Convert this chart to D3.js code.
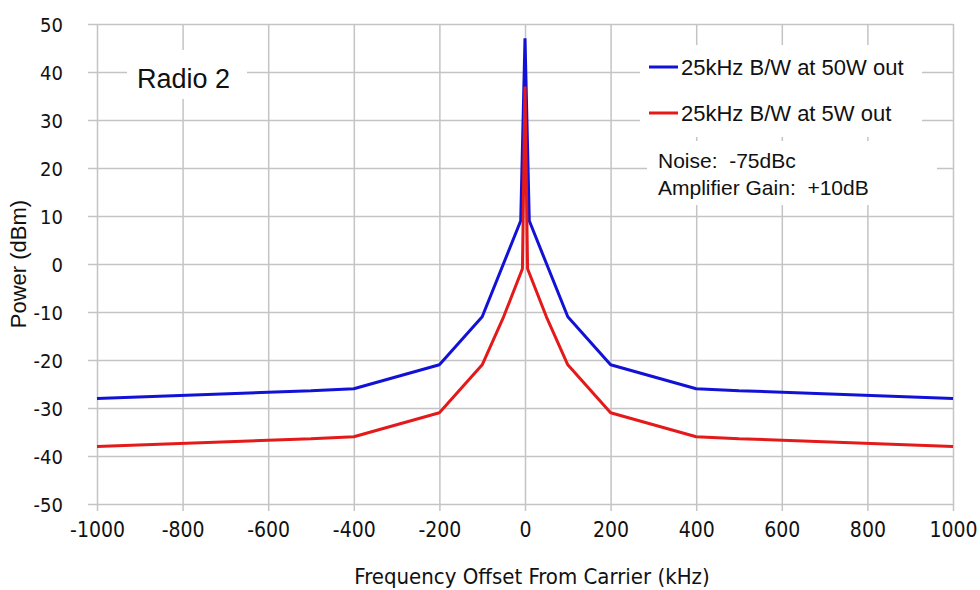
<!DOCTYPE html>
<html>
<head>
<meta charset="utf-8">
<script src="https://cdn.jsdelivr.net/npm/d3@7"></script>
<style>
  html, body { margin: 0; padding: 0; background: #fff; }
  svg { display: block; }
</style>
</head>
<body>
<svg id="chart" width="980" height="590"></svg>
<script>
// ---- Data ----
const blueFreq  = [-1000, -500, -400, -200, -100, -10, 0, 10, 100, 200, 400, 500, 1000];
const bluePower = [-28, -26.4, -26, -21, -11, 9, 47, 9, -11, -21, -26, -26.4, -28];
const redFreq   = [-1000, -500, -400, -200, -100, -50, -6, 0, 6, 50, 100, 200, 400, 500, 1000];
const redPower  = [-38, -36.4, -36, -31, -21, -11, -1, 37, -1, -11, -21, -31, -36, -36.4, -38];
const seriesNames = ["25kHz B/W at 50W out", "25kHz B/W at 5W out"];
const xTicks = [-1000, -800, -600, -400, -200, 0, 200, 400, 600, 800, 1000];
const yTicks = [-50, -40, -30, -20, -10, 0, 10, 20, 30, 40, 50];
const titleText = "Radio 2";
const noteLines = ["Noise:  -75dBc", "Amplifier Gain:  +10dB"];
const xTitle = "Frequency Offset From Carrier (kHz)";
const yTitle = "Power (dBm)";

// ---- Layout ----
const L = 97, R = 953, T = 24, B = 504;
const svg = d3.select("#chart");
const x = d3.scaleLinear().domain([-1000, 1000]).range([L, R]);
const y = d3.scaleLinear().domain([-50, 50]).range([B, T]);
const gridColor = "#c4c4c4";
const tickFont = "'DejaVu Sans Condensed', 'DejaVu Sans', sans-serif";
const fmt = d => String(d);

// Grid + ticks via axes
const gx = svg.append("g").attr("transform", `translate(0,${B})`)
  .call(d3.axisBottom(x).tickValues(xTicks).tickSize(-(B - T)).tickSizeOuter(0).tickFormat(fmt));
gx.select(".domain").remove();
gx.selectAll(".tick line").attr("stroke", gridColor).attr("stroke-width", 1.5).attr("y1", 7);
gx.selectAll(".tick text").attr("y", 18).attr("dy", "0.71em")
  .style("font-family", tickFont).style("font-size", "21px").attr("fill", "#111");

const gy = svg.append("g").attr("transform", `translate(${L},0)`)
  .call(d3.axisLeft(y).tickValues(yTicks).tickSize(-(R - L)).tickSizeOuter(0).tickFormat(fmt));
gy.select(".domain").remove();
gy.selectAll(".tick line").attr("stroke", gridColor).attr("stroke-width", 1.5).attr("x1", -9);
gy.selectAll(".tick text").attr("x", -34).attr("dy", "0.36em")
  .style("font-family", tickFont).style("font-size", "20px").attr("fill", "#111");

// White label boxes (cover grid)
svg.append("rect").attr("x", 127).attr("y", 50).attr("width", 120).attr("height", 49).attr("fill", "#fff");
svg.append("rect").attr("x", 640).attr("y", 45).attr("width", 282).attr("height", 92).attr("fill", "#fff");
svg.append("rect").attr("x", 647).attr("y", 141).attr("width", 290).attr("height", 64).attr("fill", "#fff");

// Lines
const line = d3.line().x(d => x(d[0])).y(d => y(d[1]));
const blueData = blueFreq.map((f, i) => [f, bluePower[i]]);
const redData = redFreq.map((f, i) => [f, redPower[i]]);
const colors = ["#1212d6", "#e41a1a"];
svg.append("path").datum(blueData).attr("d", line).attr("fill", "none")
  .attr("stroke", colors[0]).attr("stroke-width", 3).attr("stroke-linejoin", "miter").attr("stroke-miterlimit", 1);
svg.append("path").datum(redData).attr("d", line).attr("fill", "none")
  .attr("stroke", colors[1]).attr("stroke-width", 3).attr("stroke-linejoin", "miter").attr("stroke-miterlimit", 1);

// Title "Radio 2"
const labelFont = "'Liberation Sans', Arial, sans-serif";
svg.append("text").attr("x", 137).attr("y", 88).text(titleText)
  .style("font-family", labelFont).style("font-size", "27px").attr("fill", "#111");

// Legend
const legY = [67, 113];
seriesNames.forEach((name, i) => {
  svg.append("line").attr("x1", 649).attr("x2", 678).attr("y1", legY[i]).attr("y2", legY[i])
    .attr("stroke", colors[i]).attr("stroke-width", 3);
  svg.append("text").attr("x", 681).attr("y", legY[i] + 8).text(name)
    .style("font-family", labelFont).style("font-size", "22px").attr("fill", "#111");
});

// Notes
noteLines.forEach((t, i) => {
  svg.append("text").attr("x", 658).attr("y", 168 + i * 27).attr("xml:space", "preserve")
    .style("white-space", "pre").text(t)
    .style("font-family", labelFont).style("font-size", "21px").attr("fill", "#111");
});

// Axis titles
svg.append("text").attr("x", (L + R) / 2 + 7).attr("y", 584).attr("text-anchor", "middle").text(xTitle)
  .style("font-family", tickFont).style("font-size", "22px").attr("fill", "#111");
svg.append("text").attr("transform", `translate(26,${(T + B) / 2}) rotate(-90)`).attr("text-anchor", "middle")
  .text(yTitle).style("font-family", labelFont).style("font-size", "22px").attr("fill", "#111");
</script>
</body>
</html>
